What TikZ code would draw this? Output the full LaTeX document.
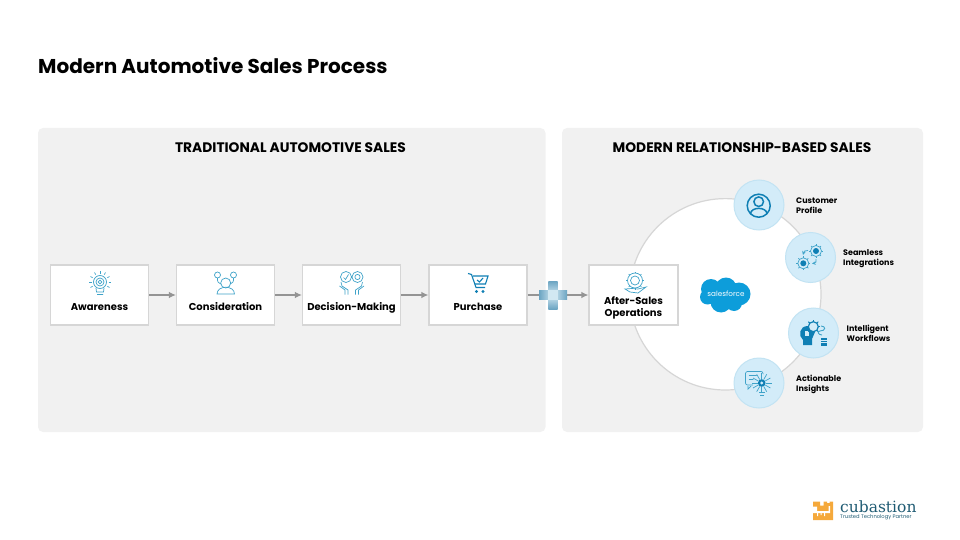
\documentclass[tikz,border=0pt]{standalone}
\usepackage{fontspec}
\setmainfont{Poppins}
\newfontfamily\logofont{DejaVu Serif}
\usetikzlibrary{arrows.meta,calc}

\definecolor{panelgray}{HTML}{F1F1F1}
\definecolor{boxline}{HTML}{D6D6D6}
\definecolor{flowgray}{HTML}{949494}
\definecolor{iconlight}{HTML}{3FA3C9}
\definecolor{icondark}{HTML}{0F7FB4}
\definecolor{bubble}{HTML}{D3ECF9}
\definecolor{bubbleline}{HTML}{C2E3F3}
\definecolor{cloudblue}{HTML}{0D9DDA}
\definecolor{plusdark}{HTML}{6BA4C2}
\definecolor{pluslight}{HTML}{D2E8F2}
\definecolor{logoorange}{HTML}{F5A93B}
\definecolor{logotext}{HTML}{1F5B73}

\tikzset{
  panel/.style = {fill=panelgray, rounded corners=5pt},
  stepbox/.style = {draw=boxline, line width=1.2pt, fill=white, minimum height=60pt, inner sep=0pt},
  steptext/.style = {font=\fontsize{10}{12}\selectfont\bfseries, anchor=base, inner sep=0pt},
  headtext/.style = {font=\fontsize{13.8}{16}\selectfont\bfseries, inner sep=0pt},
  feature/.style = {circle, draw=bubbleline, line width=1pt, fill=bubble, minimum size=50pt, inner sep=0pt},
  featuretext/.style = {font=\fontsize{8}{10}\selectfont\bfseries, align=left, anchor=west, inner sep=0pt},
  flow/.style = {draw=flowgray, line width=1.2pt, -{Latex[length=7pt,width=6.5pt]}},
  lighticon/.style = {draw=iconlight, line width=0.7pt},
  darkicon/.style = {draw=icondark, line width=1.1pt}
}

\begin{document}
\begin{tikzpicture}[x=1pt,y=-1pt]
  \useasboundingbox (0,0) rectangle (960,540);

  \node[font=\fontsize{20}{24}\selectfont\bfseries, anchor=west, inner sep=0pt] (title) at (38,65.5) {Modern Automotive Sales Process};

  % panels
  \path[panel] (38,128) rectangle (545.5,432);
  \path[panel] (562,128) rectangle (923,432);
  \node[headtext] (tradhead) at (290.5,147.5) {TRADITIONAL AUTOMOTIVE SALES};
  \node[headtext] (modhead) at (742,147.5) {MODERN RELATIONSHIP-BASED SALES};

  % ring behind the features
  \node[circle, draw=boxline, line width=1.2pt, fill=white, minimum size=191.4pt, inner sep=0pt] (ring) at (725.3,294.3) {};

  % steps
  \node[stepbox, minimum width=98pt] (awareness) at (99.5,295) {};
  \node[stepbox, minimum width=98pt] (consideration) at (225.5,295) {};
  \node[stepbox, minimum width=98pt] (decision) at (351.5,295) {};
  \node[stepbox, minimum width=98pt] (purchase) at (478,295) {};
  \node[stepbox, minimum width=89pt] (aftersales) at (633.5,295) {};

  \node[steptext] (awarenesstext) at (99.5,310.6) {Awareness};
  \node[steptext] (considerationtext) at (225.5,310.6) {Consideration};
  \node[steptext] (decisiontext) at (351.5,310.6) {Decision-Making};
  \node[steptext] (purchasetext) at (478,310.6) {Purchase};
  \node[steptext] (aftersalestext) at (633.5,304.6) {After-Sales};
  \node[steptext] (operationstext) at (633.5,316.6) {Operations};

  % arrows
  \draw[flow] (awareness) -- (consideration);
  \draw[flow] (consideration) -- (decision);
  \draw[flow] (decision) -- (purchase);
  \draw[flow] (purchase) -- (aftersales);

  % plus sign
  \shade[top color=plusdark, bottom color=plusdark, middle color=pluslight] (548.3,281) rectangle (557.7,309);
  \shade[left color=plusdark, right color=plusdark, middle color=pluslight] (539,290.3) rectangle (567,299.7);
  \fill[pluslight] (548.3,290.3) rectangle (557.7,299.7);

  % awareness icon
  \draw[lighticon] (100,282) circle (6.5) (100,282) circle (4) (100,282) circle (1.8);
  \draw[lighticon] (96,288) -- (96.5,292) -- (103.5,292) -- (104,288) (97,294.5) -- (103,294.5);
  \foreach \a in {-210,-180,...,30}
    \draw[lighticon] ($(100,282)+(\a:8.5)$) -- ($(100,282)+(\a:11)$);

  % consideration icon
  \draw[lighticon] (225.7,283) circle (5);
  \draw[lighticon] (217,294) .. controls (217,285) and (234.5,285) .. (234.5,294) -- cycle;
  \draw[lighticon] (217.5,275) circle (3) (233.5,275) circle (3);
  \draw[lighticon] (217.5,278) .. controls (217.5,282) .. (221,284) (233.5,278) .. controls (233.5,282) .. (230,284);

  % decision icon
  \draw[lighticon] (346,277) circle (5.5) (357.5,277) circle (5.5) (357.5,277) circle (2.6);
  \draw[lighticon] (343.5,277.5) -- (345.5,279.5) -- (348.5,274.5);
  \draw[lighticon] (341,282) -- (342,286) -- (348,290) -- (348,294.5) (345,294.5) -- (345,290) -- (339.5,286);
  \draw[lighticon] (362.5,282) -- (361.5,286) -- (355.5,290) -- (355.5,294.5) (358.5,294.5) -- (358.5,290) -- (364,286);

  % purchase icon
  \draw[darkicon] (468,273.5) -- (471.5,274.5) -- (476,287.5) -- (485,287.5);
  \draw[darkicon] (473,276) -- (488,276) -- (485.5,284) -- (475,284);
  \draw[darkicon] (477,280) -- (479.5,282) -- (483,278);
  \fill[icondark] (476.5,291.5) circle (1.7) (483,291.5) circle (1.7);

  % after-sales icon
  \draw[lighticon] (635,280.5) circle (7.5) (635,280.5) circle (4.5);
  \foreach \a in {0,45,...,315}
    \draw[lighticon] ($(635,280.5)+(\a:7.5)$) -- ($(635,280.5)+(\a:9)$);
  \draw[lighticon] (625,289) -- (630,292) -- (638,293) -- (646,287) -- (638,289) -- (632,288.5) -- cycle;

  % salesforce cloud
  \fill[cloudblue] (711,289) circle (10) (726,288) circle (10.5) (739,294) circle (11.5)
    (707.5,297) circle (7.5) (721,302) circle (10.5) (734,303) circle (8) (725,295) circle (12);
  \node[font=\fontsize{7.2}{8}\selectfont, text=white, inner sep=0pt] (sftext) at (726,294) {salesforce};

  % features
  \node[feature] (profile) at (759,205) {};
  \node[feature] (integrations) at (810.5,257.5) {};
  \node[feature] (workflows) at (813.5,333) {};
  \node[feature] (insights) at (759,383) {};

  \node[featuretext] (profiletext) at (796,206) {Customer\\Profile};
  \node[featuretext] (integrationstext) at (843,258.5) {Seamless\\Integrations};
  \node[featuretext] (workflowstext) at (846.5,333) {Intelligent\\Workflows};
  \node[featuretext] (insightstext) at (796,384) {Actionable\\Insights};

  % profile icon
  \draw[darkicon, line width=1.5pt] (758.7,205.7) circle (11.5) (758.7,201.7) circle (4.8);
  \draw[darkicon, line width=1.5pt] (750.5,214) .. controls (750.5,206.5) and (767,206.5) .. (767,214);

  % integrations icon
  \draw[lighticon] (816,251) circle (5.5) (803.3,263.3) circle (5.5);
  \fill[icondark] (816,251) circle (3) (803.3,263.3) circle (3);
  \foreach \a in {0,45,...,315} {
    \draw[lighticon] ($(816,251)+(\a:5.5)$) -- ($(816,251)+(\a:7)$);
    \draw[lighticon] ($(803.3,263.3)+(\a:5.5)$) -- ($(803.3,263.3)+(\a:7)$);
  }
  \draw[lighticon, -stealth] (808,250.5) .. controls (804,251) .. (803,255);
  \draw[lighticon, -stealth] (816,259) .. controls (816,263) .. (812,263.5);

  % workflows icon
  \fill[icondark] (812,345) -- (803,345) -- (803,340) .. controls (798,336) and (799,326) .. (808,326) -- (815,332) -- (812,339) -- cycle;
  \fill[bubble] (804.5,330.5) rectangle (809,336);
  \draw[fill=bubble, draw=icondark, line width=1.2pt] (813.3,326.7) circle (5);
  \foreach \a in {0,45,...,315}
    \draw[icondark, line width=1pt] ($(813.3,326.7)+(\a:5)$) -- ($(813.3,326.7)+(\a:7)$);
  \draw[lighticon, line width=0.9pt] (821,326) .. controls (826,326) and (826,331) .. (820,331) .. controls (817,331) and (818,335) .. (822,335);
  \fill[icondark] (821,337.5) rectangle (827,345.5);
  \draw[bubble, line width=0.5pt] (821,340) -- (827,340) (821,342.5) -- (827,342.5);

  % insights icon
  \draw[lighticon, rounded corners=2pt] (745.5,371.5) rectangle (763,385);
  \draw[lighticon] (748,386) -- (748,389) -- (751,386);
  \draw[lighticon] (748.5,375) -- (760,375) (748.5,379) -- (756,379);
  \fill[bubble] (761.7,383) circle (9);
  \foreach \a in {0,30,...,330} {
    \draw[lighticon] ($(761.7,383)+(\a:4)$) -- ($(761.7,383)+(\a:10)$);
  }
  \fill[icondark] (761.7,383) circle (3.8);
  \fill[bubble] (761.7,383) circle (1.6);
  \draw[lighticon] (759,392) -- (764.5,392) (760,395) -- (763.5,395);

  % logo
  \fill[logoorange] (813,501.5) -- (820,501.5) -- (820,505.5) -- (823.5,505.5) -- (823.5,501.5) -- (827,501.5) -- (827,503) -- (829.5,503) -- (829.5,501.5) -- (833,501.5) -- (833,520) -- (813,520) -- cycle;
  \fill[white] (813,506.5) -- (817,506.5) -- (817,511) -- (828.5,511) -- (828.5,506) -- (830,506) -- (830,513) -- (813,513) -- cycle;
  \fill[white] (817,513) rectangle (818,516) (820.5,513) rectangle (821.5,515) (824,513) rectangle (825,516);
  \node[font=\logofont\fontsize{15.5}{18}\selectfont, text=logotext, anchor=west, inner sep=0pt] (logotext) at (840,506.5) {cubastion};
  \node[font=\fontsize{5.2}{6}\selectfont, text=logotext, anchor=west, inner sep=0pt] (logotag) at (840,517) {Trusted Technology Partner};
\end{tikzpicture}
\end{document}
